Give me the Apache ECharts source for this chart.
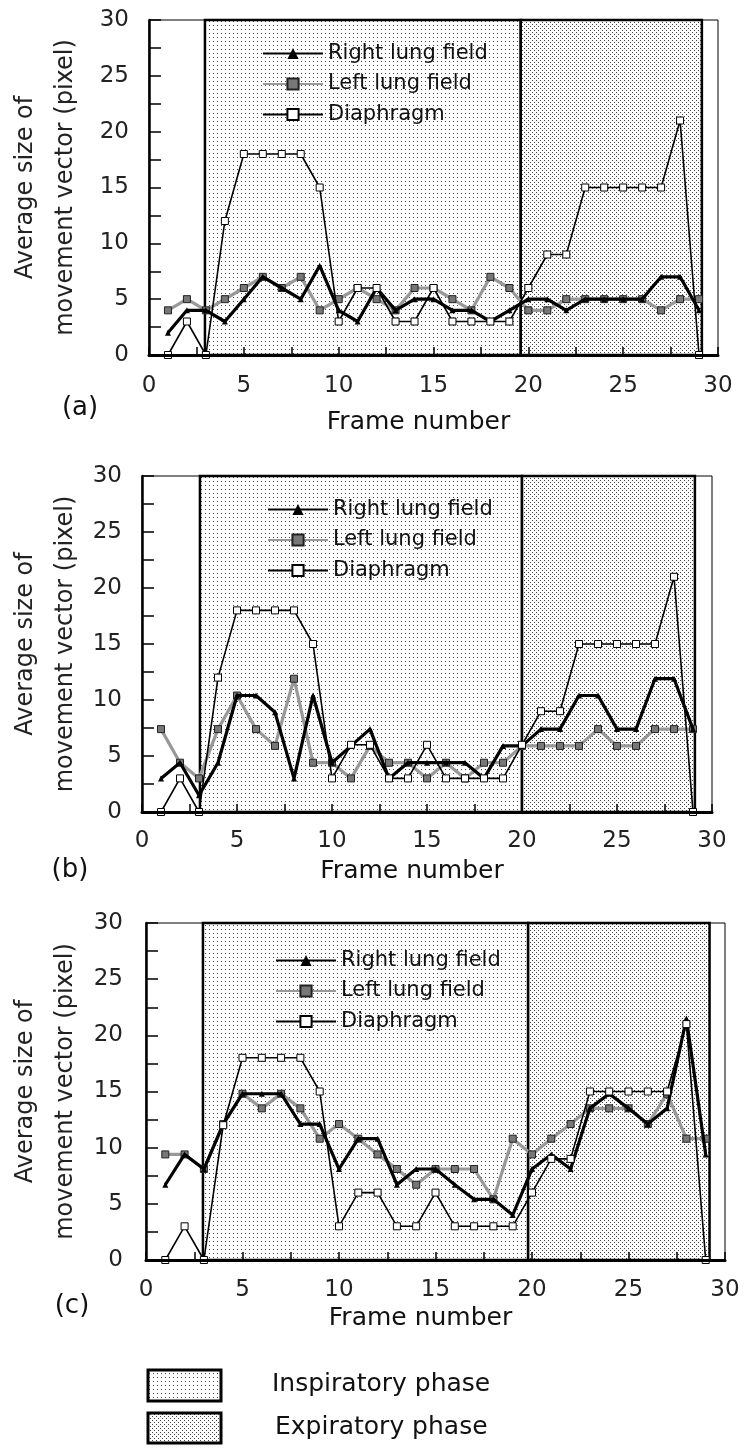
<!DOCTYPE html>
<html>
<head>
<meta charset="utf-8">
<title>Average size of movement vector</title>
<script src="https://cdn.jsdelivr.net/npm/echarts@6/dist/echarts.min.js"></script>
<style>
html, body { margin: 0; padding: 0; background: #fff; }
#chart { width: 747px; height: 1450px; }
</style>
</head>
<body>
<div id="chart"></div>
<script>
// frame numbers (x)
var frames = [1,2,3,4,5,6,7,8,9,10,11,12,13,14,15,16,17,18,19,20,21,22,23,24,25,26,27,28,29];

// (a)
var rightA = [2,4,4,3,5,7,6,5,8,4,3,6,4,5,5,4,4,3,4,5,5,4,5,5,5,5,7,7,4];
var leftA  = [4,5,4,5,6,7,6,7,4,5,6,5,4,6,6,5,4,7,6,4,4,5,5,5,5,5,4,5,5];
var diaA   = [0,3,0,12,18,18,18,18,15,3,6,6,3,3,6,3,3,3,3,6,9,9,15,15,15,15,15,21,0];

// (b)
var rightB = [3.0,4.4,1.5,4.4,10.4,10.4,8.9,3.0,10.4,4.4,5.9,7.4,3.0,4.4,4.4,4.4,4.4,3.0,5.9,5.9,7.4,7.4,10.4,10.4,7.4,7.4,11.9,11.9,7.4];
var leftB  = [7.4,4.4,3.0,7.4,10.4,7.4,5.9,11.9,4.4,4.4,3.0,5.9,4.4,4.4,3.0,4.4,3.0,4.4,4.4,5.9,5.9,5.9,5.9,7.4,5.9,5.9,7.4,7.4,7.4];
var diaB   = [0,3,0,12,18,18,18,18,15,3,6,6,3,3,6,3,3,3,3,6,9,9,15,15,15,15,15,21,0];

// (c)
var rightC = [6.7,9.4,8.1,12.1,14.8,14.8,14.8,12.1,12.1,8.1,10.8,10.8,6.7,8.1,8.1,6.7,5.4,5.4,4.0,8.1,9.4,8.1,13.5,14.8,13.5,12.1,13.5,21.5,9.4];
var leftC  = [9.4,9.4,8.1,12.1,14.8,13.5,14.8,13.5,10.8,12.1,10.8,9.4,8.1,6.7,8.1,8.1,8.1,5.4,10.8,9.4,10.8,12.1,13.5,13.5,13.5,12.1,14.8,10.8,10.8];
var diaC   = [0,3,0,12,18,18,18,18,15,3,6,6,3,3,6,3,3,3,3,6,9,9,15,15,15,15,15,21,0];

// phase limits in frames: inspiratory start, inspiratory/expiratory boundary, expiratory end
var phaseA = [2.95, 19.6, 29.15];
var phaseB = [3.05, 20, 29.1];
var phaseC = [2.95, 19.8, 29.2];

var seriesNames = ['Right lung field', 'Left lung field', 'Diaphragm'];
var panelLabels = ['(a)', '(b)', '(c)'];

// dot patterns for the phase boxes
function makeDots(w, h, pts) {
    var c = document.createElement('canvas');
    c.width = w; c.height = h;
    var ctx = c.getContext('2d');
    ctx.fillStyle = '#fff';
    ctx.fillRect(0, 0, w, h);
    ctx.fillStyle = '#444';
    pts.forEach(function (p) { ctx.fillRect(p[0], p[1], 1, 1); });
    return c;
}
var inspPattern = { image: makeDots(4, 4, [[1, 1]]), repeat: 'repeat' };
var expPattern  = { image: makeDots(4, 4, [[0, 0], [2, 2]]), repeat: 'repeat' };

function pairs(vals) {
    return frames.map(function (f, i) { return [f, vals[i]]; });
}

var grids = [
    { left: 149, top: 20,  width: 569, height: 335 },
    { left: 142, top: 476, width: 570, height: 336 },
    { left: 146, top: 923, width: 579, height: 337 }
];
var legendPos = [[257, 38], [262, 494], [270, 945]];
var labelPos = [[80, 408], [70, 870], [72, 1306]];
var fontFam = 'DejaVu Sans';

function panelSeries(idx, right, left, dia, ph) {
    return [
        {
            // phase boxes only
            name: 'phases', type: 'line', xAxisIndex: idx, yAxisIndex: idx, z: 0,
            data: [], silent: true,
            markArea: {
                silent: true, z: 0,
                label: { show: false },
                itemStyle: { borderColor: '#000', borderWidth: 2.5 },
                data: [
                    [{ xAxis: ph[0], yAxis: 0, itemStyle: { color: inspPattern } }, { xAxis: ph[1], yAxis: 30 }],
                    [{ xAxis: ph[1], yAxis: 0, itemStyle: { color: expPattern } }, { xAxis: ph[2], yAxis: 30 }]
                ]
            }
        },
        {
            name: 'Left lung field', type: 'line', xAxisIndex: idx, yAxisIndex: idx, z: 3,
            data: pairs(left), symbol: 'rect', symbolSize: 7, showAllSymbol: true,
            lineStyle: { color: '#999', width: 3.2 },
            itemStyle: { color: '#777', borderColor: '#222', borderWidth: 1 }
        },
        {
            name: 'Right lung field', type: 'line', xAxisIndex: idx, yAxisIndex: idx, z: 4,
            data: pairs(right), symbol: 'triangle', symbolSize: 6, showAllSymbol: true,
            lineStyle: { color: '#000', width: 3.2 },
            itemStyle: { color: '#000' }
        },
        {
            name: 'Diaphragm', type: 'line', xAxisIndex: idx, yAxisIndex: idx, z: 5,
            data: pairs(dia), symbol: 'rect', symbolSize: 7, showAllSymbol: true,
            lineStyle: { color: '#000', width: 1.6 },
            itemStyle: { color: '#fff', borderColor: '#000', borderWidth: 1 }
        }
    ];
}

var xAxes = [], yAxes = [], legends = [], graphics = [];
grids.forEach(function (g, i) {
    xAxes.push({
        type: 'value', gridIndex: i, min: 0, max: 30, interval: 5, z: 6,
        name: 'Frame number', nameLocation: 'middle', nameGap: [55, 47, 46][i],
        nameTextStyle: { fontSize: 25, color: '#111', fontFamily: fontFam, padding: [0, 30, 0, 0] },
        axisLine: { lineStyle: { color: '#000', width: 3 } },
        axisTick: { inside: true, length: 8, lineStyle: { color: '#000', width: 1.5 } },
        minorTick: { show: true, splitNumber: 2, length: 8, lineStyle: { color: '#000', width: 1.5 } },
        axisLabel: { fontSize: 23, color: '#222', fontFamily: fontFam, margin: [20, 18, 19][i] },
        splitLine: { show: false }
    });
    yAxes.push({
        type: 'value', gridIndex: i, min: 0, max: 30, interval: 5, z: 6,
        axisLine: { lineStyle: { color: '#000', width: 2.5 } },
        axisTick: { inside: true, length: 12, lineStyle: { color: '#000', width: 1.5 } },
        minorTick: { show: true, splitNumber: 2, length: 12, lineStyle: { color: '#000', width: 1.5 } },
        axisLabel: { fontSize: 23, color: '#222', fontFamily: fontFam, margin: [20, 20, 23][i] },
        splitLine: { show: false }
    });
    legends.push({
        data: seriesNames, orient: 'vertical', left: legendPos[i][0], top: legendPos[i][1], z: 8,
        itemWidth: 60, itemHeight: 14, itemGap: 9.5, selectedMode: false,
        textStyle: { fontSize: 21, color: '#111', fontFamily: fontFam }
    });
    graphics.push({
        type: 'text', x: 46, y: g.top + g.height / 2, rotation: Math.PI / 2,
        style: {
            text: 'Average size of\nmovement vector (pixel)', fontSize: 24, lineHeight: 40,
            fill: '#222', fontFamily: fontFam, align: 'center', verticalAlign: 'middle'
        }
    });
    graphics.push({
        type: 'text', x: labelPos[i][0], y: labelPos[i][1],
        style: { text: panelLabels[i], fontSize: 26, fill: '#111', fontFamily: fontFam, align: 'center', verticalAlign: 'middle' }
    });
});

// phase key at the bottom
graphics.push(
    { type: 'rect', shape: { x: 148, y: 1370, width: 73, height: 31 }, style: { fill: inspPattern, stroke: '#000', lineWidth: 3 } },
    { type: 'rect', shape: { x: 148, y: 1413, width: 73, height: 30 }, style: { fill: expPattern, stroke: '#000', lineWidth: 3 } },
    { type: 'text', x: 272, y: 1384, style: { text: 'Inspiratory phase', fontSize: 25, fill: '#111', fontFamily: fontFam, verticalAlign: 'middle' } },
    { type: 'text', x: 275, y: 1427, style: { text: 'Expiratory phase', fontSize: 25, fill: '#111', fontFamily: fontFam, verticalAlign: 'middle' } }
);

var chart = echarts.init(document.getElementById('chart'));
var option = {
    animation: false,
    backgroundColor: '#fff',
    textStyle: { fontFamily: fontFam },
    grid: grids.map(function (g) {
        return { left: g.left, top: g.top, width: g.width, height: g.height, show: true, borderColor: '#000', borderWidth: 1, backgroundColor: 'transparent' };
    }),
    xAxis: xAxes,
    yAxis: yAxes,
    legend: legends,
    graphic: graphics,
    series: [].concat(
        panelSeries(0, rightA, leftA, diaA, phaseA),
        panelSeries(1, rightB, leftB, diaB, phaseB),
        panelSeries(2, rightC, leftC, diaC, phaseC)
    )
};
chart.setOption(option);
</script>
</body>
</html>
